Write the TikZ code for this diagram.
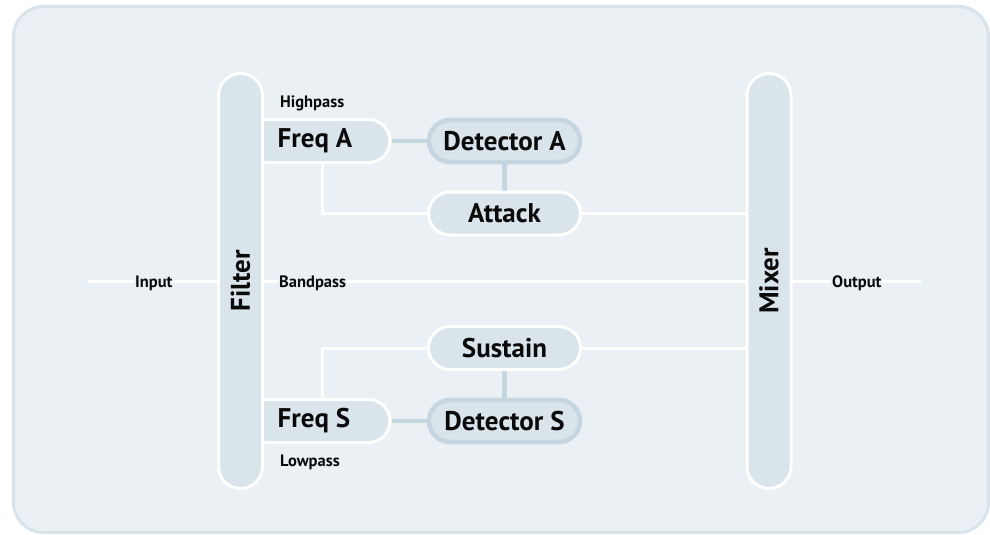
\documentclass[tikz,border=0pt]{standalone}
\usepackage{fontspec}
\setmainfont{PT Sans}
\usetikzlibrary{shapes.misc,backgrounds}
\pgfdeclarelayer{back}
\pgfsetlayers{back,background,main}
\definecolor{bgc}{HTML}{EAF0F3}
\definecolor{framec}{HTML}{D8E3EA}
\definecolor{boxc}{HTML}{D9E4EB}
\definecolor{linkc}{HTML}{C5D6E0}
\definecolor{txtc}{HTML}{0A0A0A}
\begin{document}
\begin{tikzpicture}[x=1pt,y=-1pt,
  box/.style={rounded rectangle, fill=boxc, draw=white, line width=3pt, minimum height=43pt, minimum width=152pt, inner sep=0pt, font=\fontsize{27}{30}\selectfont\bfseries, text=txtc},
  detbox/.style={box, draw=linkc, line width=4.5pt, minimum height=42pt, minimum width=151pt},
  freqbox/.style={box, rounded rectangle left arc=none, minimum width=135pt},
  bar/.style={box, rotate=90, minimum width=415pt, minimum height=44pt},
  boxtext/.style={inner sep=0pt, font=\fontsize{27}{30}\selectfont\bfseries, text=txtc},
  wire/.style={draw=white, line width=3pt},
  link/.style={draw=linkc, line width=4.5pt},
  tag/.style={font=\fontsize{16.5}{19}\selectfont\bfseries, text=txtc, inner sep=1pt},
  cut/.style={tag, fill=bgc}
]
\useasboundingbox (0,0) rectangle (990,535);
\begin{pgfonlayer}{back}
  \draw[rounded corners=30pt, line width=3pt, draw=framec, fill=bgc] (13.5,6.5) rectangle (988.5,532.5);
\end{pgfonlayer}

% frequency boxes (left part hidden under the filter bar)
\node[freqbox] (freqA) at (322.5,141) {};
\node[freqbox] (freqS) at (322.5,421) {};
\node[boxtext, anchor=west] (freqAt) at ([xshift=24pt]freqA.west) {Freq A};
\node[boxtext, anchor=west] (freqSt) at ([xshift=24pt]freqS.west) {Freq S};

% bars
\node[bar] (filter) at (240.5,281) {Filter};
\node[bar] (mixer) at (769,281) {Mixer};

% processing nodes
\node[detbox] (detA) at (504.5,141) {Detector A};
\node[box] (attack) at (504.5,213.5) {Attack};
\node[box] (sustain) at (504.5,348) {Sustain};
\node[detbox] (detS) at (504.5,421) {Detector S};

\coordinate (inL) at (88,281);
\coordinate (outR) at (921,281);

\begin{scope}[on background layer]
  \draw[wire] (inL) -- (filter.center);
  \draw[wire] (filter.center) -- (mixer.center);
  \draw[wire] (mixer.center) -- (outR);
  \draw[wire] ([xshift=-0.5pt]freqA.south) |- (attack.west);
  \draw[wire] (attack.east) -- (attack.east -| mixer.center);
  \draw[wire] ([xshift=-0.5pt]freqS.north) |- (sustain.west);
  \draw[wire] (sustain.east) -- (sustain.east -| mixer.center);
  \draw[link] (freqA.east) -- (detA.west);
  \draw[link] (detA.south) -- (attack.north);
  \draw[link] (freqS.east) -- (detS.west);
  \draw[link] (sustain.south) -- (detS.north);
\end{scope}

% labels
\node[tag, anchor=base west] (hp) at (279,107) {Highpass};
\node[tag, anchor=base west] (lp) at (279,466) {Lowpass};
\node[cut, anchor=base west] (inlbl) at (134,287) {Input};
\node[cut, anchor=base west] (bplbl) at (278,287) {Bandpass};
\node[cut, anchor=base west] (outlbl) at (831,287) {Output};
\end{tikzpicture}
\end{document}
